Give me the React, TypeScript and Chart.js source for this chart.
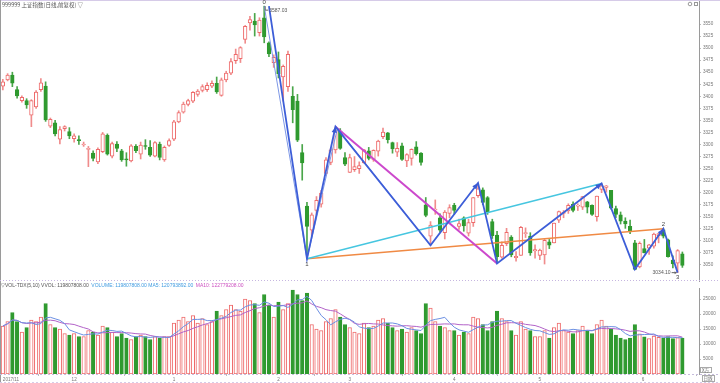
import React, { useEffect, useRef } from 'react';
import { Chart, registerables } from 'chart.js';
Chart.register(...registerables);

// ---- Daily OHLC (SSE composite, 2017/11/10 .. 2018/06/13) ----
const openP = [
  3421, 3434, 3444, 3414, 3391, 3391, 3361, 3378, 3414, 3421,
  3338, 3345, 3311, 3333, 3327, 3312, 3310, 3300, 3290, 3282,
  3264, 3285, 3319, 3276, 3301, 3287, 3270, 3266, 3296, 3280,
  3298, 3294, 3276, 3301, 3268, 3298, 3311, 3347, 3367, 3383,
  3390, 3404, 3412, 3414, 3421, 3427, 3402, 3434, 3448, 3474,
  3478, 3518, 3552, 3556, 3532, 3563, 3511, 3470, 3476, 3440,
  3420, 3400, 3390, 3283, 3172, 3122, 3163, 3176, 3240, 3263,
  3289, 3328, 3273, 3242, 3248, 3250, 3262, 3287, 3269, 3286,
  3316, 3324, 3304, 3284, 3297, 3266, 3271, 3295, 3282, 3175,
  3110, 3165, 3148, 3117, 3157, 3174, 3130, 3148, 3116, 3138,
  3194, 3206, 3190, 3140, 3112, 3066, 3094, 3108, 3065, 3070,
  3115, 3110, 3079, 3070, 3071, 3098, 3096, 3143, 3157, 3162,
  3176, 3172, 3170, 3181, 3174, 3150, 3207, 3211, 3205, 3167,
  3154, 3141, 3130, 3096, 3046, 3084, 3085, 3089, 3111, 3123,
  3102, 3060, 3054, 3073,
];
const highP = [
  3435, 3447, 3450, 3420, 3401, 3395, 3393, 3412, 3437, 3430,
  3355, 3350, 3337, 3339, 3335, 3322, 3318, 3305, 3296, 3287,
  3293, 3325, 3322, 3305, 3306, 3290, 3283, 3300, 3300, 3305,
  3310, 3308, 3306, 3305, 3297, 3312, 3350, 3370, 3388, 3394,
  3410, 3414, 3424, 3428, 3432, 3440, 3438, 3452, 3478, 3498,
  3503, 3547, 3566, 3572, 3563, 3587.03, 3513, 3486, 3492, 3465,
  3494, 3420, 3404, 3300, 3180, 3158, 3192, 3205, 3273, 3292,
  3337, 3333, 3283, 3280, 3275, 3264, 3290, 3294, 3289, 3309,
  3334, 3325, 3305, 3304, 3303, 3281, 3291, 3306, 3283, 3190,
  3140, 3185, 3156, 3163, 3175, 3178, 3145, 3150, 3145, 3190,
  3220, 3210, 3192, 3145, 3120, 3098, 3126, 3111, 3078, 3130,
  3127, 3117, 3092, 3083, 3103, 3103, 3137, 3162, 3163, 3177,
  3181, 3177, 3192, 3182, 3175, 3193, 3219, 3215, 3205, 3172,
  3160, 3148, 3143, 3101, 3098, 3103, 3093, 3116, 3115, 3125,
  3104, 3069, 3082, 3077,
];
const lowP = [
  3413, 3432, 3420, 3396, 3388, 3375, 3337, 3375, 3410, 3348,
  3335, 3318, 3301, 3328, 3312, 3305, 3300, 3296, 3254, 3266,
  3260, 3283, 3278, 3272, 3285, 3265, 3255, 3264, 3283, 3270,
  3290, 3275, 3274, 3268, 3265, 3296, 3308, 3345, 3365, 3380,
  3387, 3400, 3409, 3410, 3418, 3406, 3400, 3430, 3445, 3468,
  3470, 3510, 3537, 3525, 3525, 3511, 3482, 3460, 3438, 3390,
  3410, 3345, 3306, 3226, 3062.74, 3110, 3155, 3170, 3236, 3258,
  3282, 3290, 3256, 3242, 3244, 3240, 3261, 3268, 3265, 3276,
  3312, 3303, 3282, 3275, 3267, 3254, 3257, 3278, 3257, 3150,
  3091, 3155, 3118, 3104, 3148, 3155, 3124, 3120, 3110, 3130,
  3190, 3175, 3155, 3105, 3053, 3064, 3090, 3067, 3058, 3070,
  3107, 3070, 3064, 3061, 3052, 3084, 3096, 3138, 3148, 3157,
  3160, 3163, 3165, 3158, 3153, 3141, 3200, 3201, 3166, 3148,
  3135, 3126, 3115, 3041, 3044, 3075, 3072, 3085, 3096, 3106,
  3066, 3044, 3034.1, 3045,
];
const closeP = [
  3430, 3444, 3427, 3401, 3398, 3382, 3391, 3409, 3428, 3351,
  3352, 3322, 3331, 3337, 3318, 3318, 3308, 3301, 3292, 3271,
  3290, 3322, 3280, 3302, 3292, 3268, 3268, 3297, 3287, 3299,
  3296, 3278, 3304, 3273, 3294, 3308, 3347, 3366, 3384, 3391,
  3408, 3411, 3420, 3423, 3427, 3409, 3434, 3448, 3472, 3487,
  3501, 3545, 3559, 3548, 3558, 3523, 3488, 3481, 3447, 3462,
  3487, 3372, 3309, 3262, 3130, 3154, 3184, 3199, 3268, 3289,
  3329, 3292, 3259, 3273, 3254, 3256, 3289, 3271, 3288, 3307,
  3326, 3310, 3291, 3292, 3269, 3279, 3290, 3281, 3263, 3153,
  3133, 3166, 3122, 3160, 3169, 3163, 3136, 3131, 3138, 3190,
  3208, 3180, 3159, 3111, 3067, 3091, 3118, 3071, 3068, 3128,
  3117, 3075, 3082, 3081, 3101, 3091, 3137, 3161, 3159, 3174,
  3163, 3174, 3192, 3170, 3155, 3193, 3214, 3214, 3168, 3155,
  3141, 3135, 3120, 3041, 3095, 3075, 3092, 3114, 3115, 3110,
  3067, 3052, 3080, 3049,
];
// volume, unit 万
const volume = [
  16000, 17500, 20500, 17500, 14000, 15500, 18000, 17500, 19000, 23500, 16500, 15500, 15000, 13500, 13000,
  13500, 12500, 12500, 14500, 14000, 13000, 16000, 15500, 14000, 12500, 13500, 12000, 11500, 12500, 13000, 12500, 11500, 12500, 12000, 12500, 12500,
  17000, 18000, 19000, 17500, 19500, 17000, 18500, 16500, 17500, 21000, 19500, 21500, 23000, 21500, 21000, 25000, 24500, 23500, 20500, 26500, 23000, 19000,
  24000, 21500, 23500, 28000, 26500, 24500, 27000, 16500, 15000, 14500, 17500, 18500, 21500, 19000, 16500,
  15500, 14000, 13500, 17000, 15500, 16000, 18000, 18500, 17000, 15500, 14500, 15000, 14000, 15500, 14500, 13500, 23500, 22000, 17500, 16000, 15500, 14500,
  14500, 13000, 14000, 13500, 19000, 18500, 16500, 14500, 17500, 21000, 18500, 17500, 14500, 13000, 17500, 15000, 14500, 12500,
  12500, 14500, 12000, 15500, 17000, 14500, 14000, 13500, 14500, 16000, 14500, 13500, 16500, 18000, 16000, 15000, 13000, 12000, 11500, 12000, 16500, 13400,
  12400, 11800, 12600, 12198, 12000, 12500, 11800, 12100, 11981,
];

// axis ticks
const monthTickIdx = [0, 15, 36, 58, 73, 95, 113, 135];
const monthTickLabels = ['2017/11', '12', '1', '2', '3', '4', '5', '6'];
const priceTicks = [3050, 3075, 3100, 3125, 3150, 3175, 3200, 3225, 3250, 3275, 3300, 3325, 3350, 3375, 3400, 3425, 3450, 3475, 3500, 3525, 3550];
const volTicks = [5000, 10000, 15000, 20000, 25000];

// wave drawing pivots
const zigIdx = [56, 64, 70, 90, 100, 104, 126, 133, 139, 142];
const zigVal = [3587.03, 3062.74, 3337, 3091, 3220, 3053, 3219, 3041, 3125, 3034.1];
const thinIdx = [55, 64, 70.4, 90];
const thinVal = [3587.03, 3062.74, 3333, 3091];
const magentaIdx = [70, 104];
const magentaVal = [3337, 3053];
const cyanIdx = [64, 126];
const cyanVal = [3062.74, 3219];
const orangeIdx = [64, 139];
const orangeVal = [3062.74, 3125];
const waveLabels = ['0', '1', '2', '3'];
const waveLabelIdx = [55, 64, 139, 142];
const waveLabelVal = [3587.03, 3062.74, 3125, 3034.1];
const waveLabelPeak = [true, false, true, false];
const peakText = '3587.03';
const troughText = '3034.10';

const titleText = '999999 上证指数(日线,前复权) ▽';
const volTitle = ['▽VOL-TDX(5,10) VVOL: 119807808.00', 'VOLUME: 119807808.00 MA5: 120793892.00', 'MA10: 122779208.00'];
const volTitleColors = ['#555555', '#3f9be0', '#cc4fc0'];

const RED = '#ee6a6a';
const RED_W = '#f08c8c';
const GREEN = '#2f9a2f';
const GREEN_W = '#4aa64a';
const FONT = '"Liberation Sans", Arial, sans-serif';

function movingAvg(arr: number[], n: number) {
  return arr.map((_, i) => {
    const s = arr.slice(Math.max(0, i - n + 1), i + 1);
    return s.reduce((a, b) => a + b, 0) / s.length;
  });
}

function pts(ix: number[], vals: number[]) {
  return ix.map((x, k) => ({ x, y: vals[k] }));
}

function arrowHead(ctx: CanvasRenderingContext2D, x0: number, y0: number, x1: number, y1: number, color: string) {
  const a = Math.atan2(y1 - y0, x1 - x0);
  const L = 6, w = 2.6;
  ctx.fillStyle = color;
  ctx.beginPath();
  ctx.moveTo(x1, y1);
  ctx.lineTo(x1 - L * Math.cos(a) + w * Math.sin(a), y1 - L * Math.sin(a) - w * Math.cos(a));
  ctx.lineTo(x1 - L * Math.cos(a) - w * Math.sin(a), y1 - L * Math.sin(a) + w * Math.cos(a));
  ctx.closePath();
  ctx.fill();
}

const X_MIN = -0.6;
const X_MAX = 146.5;

export default function App() {
  const priceRef = useRef<HTMLCanvasElement>(null);
  const volRef = useRef<HTMLCanvasElement>(null);

  useEffect(() => {
    document.body.style.margin = '0';
    const idx = closeP.map((_, i) => i);
    const up = idx.map((i) => closeP[i] >= openP[i]);
    const bodyData = idx.map((i) => {
      const o = openP[i], c = closeP[i];
      if (Math.abs(o - c) < 2) return { x: i, y: [Math.min(o, c) - 1, Math.min(o, c) + 1] };
      return { x: i, y: [o, c] };
    });
    const wickData = idx.map((i) => ({ x: i, y: [lowP[i], highP[i]] }));
    const volData = idx.map((i) => ({ x: i, y: volume[i] }));
    const ma5 = movingAvg(volume, 5).map((v, i) => ({ x: i, y: v }));
    const ma10 = movingAvg(volume, 10).map((v, i) => ({ x: i, y: v }));

    const lineDs = (data: any[], color: string, width: number) => ({
      type: 'line' as const,
      data,
      borderColor: color,
      borderWidth: width,
      pointRadius: 0,
      fill: false,
      tension: 0,
      order: 0,
    });

    const plainTick = (v: any) => String(Math.round(Number(v)));

    const priceDecor = {
      id: 'priceDecor',
      afterDraw(chart: any) {
        const { ctx } = chart;
        const xs = chart.scales.x, ys = chart.scales.y;
        const W = chart.width, H = chart.height;
        ctx.save();
        ctx.lineWidth = 1;
        ctx.strokeStyle = '#d6cbe8';
        ctx.beginPath(); ctx.moveTo(0, 0.5); ctx.lineTo(W, 0.5); ctx.stroke();
        ctx.strokeStyle = '#9a9a9a';
        ctx.beginPath(); ctx.moveTo(0.5, 0); ctx.lineTo(0.5, H); ctx.stroke();
        ctx.setLineDash([1, 2]);
        ctx.strokeStyle = '#c6b6e0';
        ctx.beginPath(); ctx.moveTo(0, H - 1.5); ctx.lineTo(W, H - 1.5); ctx.stroke();
        ctx.setLineDash([]);
        // title
        ctx.textBaseline = 'middle';
        ctx.textAlign = 'left';
        ctx.fillStyle = '#555';
        ctx.font = '5.5px "Noto Sans CJK SC", ' + FONT;
        ctx.fillText(titleText, 2, 5);
        // top right icons
        ctx.strokeStyle = '#999';
        ctx.beginPath(); ctx.arc(690, 4, 1.8, 0, Math.PI * 2); ctx.stroke();
        ctx.strokeRect(694.5, 2.5, 3, 3);
        // arrowheads on up legs
        for (let k = 1; k < zigIdx.length; k++) {
          if (zigVal[k] > zigVal[k - 1]) {
            arrowHead(ctx, xs.getPixelForValue(zigIdx[k - 1]), ys.getPixelForValue(zigVal[k - 1]),
              xs.getPixelForValue(zigIdx[k]), ys.getPixelForValue(zigVal[k]), '#3a5ad2');
          }
        }
        // wave labels
        ctx.font = '6px ' + FONT;
        ctx.fillStyle = '#444';
        ctx.textAlign = 'center';
        waveLabels.forEach((t, k) => {
          const px = xs.getPixelForValue(waveLabelIdx[k]);
          const py = ys.getPixelForValue(waveLabelVal[k]);
          ctx.fillText(t, px, py + (waveLabelPeak[k] ? -4 : 5));
        });
        // price notes
        ctx.font = '5px ' + FONT;
        ctx.fillStyle = '#555';
        const p0x = xs.getPixelForValue(waveLabelIdx[0]);
        const p0y = ys.getPixelForValue(waveLabelVal[0]);
        ctx.strokeStyle = '#666';
        ctx.beginPath(); ctx.moveTo(p0x + 1, p0y); ctx.lineTo(p0x + 1, p0y + 4); ctx.lineTo(p0x + 4, p0y + 4); ctx.stroke();
        ctx.textAlign = 'left';
        ctx.fillText(peakText, p0x + 5, p0y + 4);
        const p3x = xs.getPixelForValue(waveLabelIdx[3]);
        const p3y = ys.getPixelForValue(waveLabelVal[3]);
        ctx.beginPath(); ctx.moveTo(p3x - 6, p3y); ctx.lineTo(p3x - 1, p3y); ctx.stroke();
        ctx.beginPath(); ctx.moveTo(p3x - 1, p3y); ctx.lineTo(p3x - 3, p3y - 1.5); ctx.lineTo(p3x - 3, p3y + 1.5); ctx.closePath(); ctx.fillStyle = '#666'; ctx.fill();
        ctx.fillStyle = '#555';
        ctx.textAlign = 'right';
        ctx.fillText(troughText, p3x - 7, p3y);
        ctx.restore();
      },
    };

    const volDecor = {
      id: 'volDecor',
      afterDraw(chart: any) {
        const { ctx } = chart;
        const W = chart.width, H = chart.height;
        const area = chart.chartArea;
        ctx.save();
        ctx.lineWidth = 1;
        ctx.strokeStyle = '#9a9a9a';
        ctx.beginPath(); ctx.moveTo(0.5, 0); ctx.lineTo(0.5, H); ctx.stroke();
        ctx.setLineDash([2, 2]);
        ctx.strokeStyle = '#c6bcdc';
        ctx.beginPath(); ctx.moveTo(0, Math.round(area.bottom) + 0.5); ctx.lineTo(W, Math.round(area.bottom) + 0.5); ctx.stroke();
        ctx.strokeStyle = '#d6cbe8';
        ctx.beginPath(); ctx.moveTo(0, H - 0.5); ctx.lineTo(W, H - 0.5); ctx.stroke();
        ctx.setLineDash([]);
        ctx.textBaseline = 'middle';
        ctx.textAlign = 'left';
        ctx.font = '5px ' + FONT;
        let x = 1;
        volTitle.forEach((t, k) => {
          ctx.fillStyle = volTitleColors[k];
          ctx.fillText(t, x, 3.5);
          x += ctx.measureText(t).width + 2.5;
        });
        // unit boxes
        ctx.font = '4.5px "Noto Sans CJK SC", ' + FONT;
        ctx.fillStyle = '#666';
        ctx.strokeStyle = '#aaa';
        ctx.strokeRect(700.5, area.bottom - 6.5, 11, 5);
        ctx.fillText('X万', 702, area.bottom - 4);
        ctx.strokeRect(702.5, H - 7.5, 12, 6);
        ctx.fillText('日线', 703.5, H - 4.5);
        ctx.restore();
      },
    };

    const pc = new Chart(priceRef.current as HTMLCanvasElement, {
      type: 'bar',
      data: {
        datasets: [
          lineDs(pts(zigIdx, zigVal), '#3d5ed8', 1.8),
          lineDs(pts(thinIdx, thinVal), '#7d97e6', 1),
          lineDs(pts(magentaIdx, magentaVal), '#cc48cc', 2),
          lineDs(pts(cyanIdx, cyanVal), '#46c6e0', 1.5),
          lineDs(pts(orangeIdx, orangeVal), '#f08a44', 1.5),
          {
            type: 'bar',
            data: bodyData as any,
            backgroundColor: up.map((u) => (u ? '#ffffff' : GREEN)),
            borderColor: up.map((u) => (u ? RED : GREEN)),
            borderWidth: 1,
            borderSkipped: false,
            barThickness: 3.6,
            grouped: false,
            order: 1,
          } as any,
          {
            type: 'bar',
            data: wickData as any,
            backgroundColor: up.map((u) => (u ? RED_W : GREEN_W)),
            borderWidth: 0,
            barThickness: 1,
            grouped: false,
            order: 2,
          } as any,
        ],
      },
      options: {
        animation: false,
        responsive: false,
        events: [],
        layout: { padding: 0 },
        plugins: { legend: { display: false }, tooltip: { enabled: false } },
        scales: {
          x: { type: 'linear', min: X_MIN, max: X_MAX, display: false, offset: false },
          y: {
            position: 'right',
            min: 3014.7,
            max: 3599.8,
            afterBuildTicks: (s: any) => { s.ticks = priceTicks.map((v) => ({ value: v })); },
            afterFit: (s: any) => { s.width = 21; s.paddingTop = 0; s.paddingBottom = 0; },
            ticks: { font: { size: 4.6, family: FONT }, color: '#777', padding: 2, autoSkip: false, callback: plainTick },
            grid: { drawOnChartArea: false, drawTicks: true, tickLength: 2, color: '#bbb' },
            border: { display: true, color: '#9a9a9a' },
          },
        },
      } as any,
      plugins: [priceDecor],
    });

    const vc = new Chart(volRef.current as HTMLCanvasElement, {
      type: 'bar',
      data: {
        datasets: [
          lineDs(ma5, '#6b8fe2', 1),
          lineDs(ma10, '#b262c8', 1),
          {
            type: 'bar',
            data: volData as any,
            backgroundColor: up.map((u) => (u ? '#ffffff' : GREEN)),
            borderColor: up.map((u) => (u ? RED : GREEN)),
            borderWidth: 1,
            borderSkipped: false,
            barThickness: 3.5,
            grouped: false,
            order: 1,
          } as any,
        ],
      },
      options: {
        animation: false,
        responsive: false,
        events: [],
        layout: { padding: { top: 6, left: 0, right: 0, bottom: 0 } },
        plugins: { legend: { display: false }, tooltip: { enabled: false } },
        scales: {
          x: {
            type: 'linear',
            min: X_MIN,
            max: X_MAX,
            offset: false,
            afterBuildTicks: (s: any) => { s.ticks = monthTickIdx.map((v) => ({ value: v })); },
            afterFit: (s: any) => { s.height = 9; s.paddingLeft = 0; s.paddingRight = 0; },
            ticks: {
              font: { size: 4.6, family: FONT },
              color: '#777',
              padding: 1,
              autoSkip: false,
              maxRotation: 0,
              align: 'inner',
              callback: (v: any) => {
                const k = monthTickIdx.indexOf(Number(v));
                return k >= 0 ? monthTickLabels[k] : '';
              },
            },
            grid: { drawOnChartArea: false, drawTicks: true, tickLength: 2, color: '#bbb' },
            border: { display: false },
          },
          y: {
            position: 'right',
            min: 0,
            max: 28667,
            afterBuildTicks: (s: any) => { s.ticks = volTicks.map((v) => ({ value: v })); },
            afterFit: (s: any) => { s.width = 21; s.paddingTop = 0; s.paddingBottom = 0; },
            ticks: { font: { size: 4.6, family: FONT }, color: '#777', padding: 2, autoSkip: false, callback: plainTick },
            grid: { drawOnChartArea: false, drawTicks: true, tickLength: 2, color: '#bbb' },
            border: { display: true, color: '#9a9a9a' },
          },
        },
      } as any,
      plugins: [volDecor],
    });

    return () => {
      pc.destroy();
      vc.destroy();
    };
  }, []);

  return (
    <div style={{ position: 'relative', width: 720, height: 383, background: '#ffffff', overflow: 'hidden' }}>
      <canvas ref={priceRef} width={720} height={282} style={{ position: 'absolute', left: 0, top: 0 }} />
      <canvas ref={volRef} width={720} height={101} style={{ position: 'absolute', left: 0, top: 282 }} />
    </div>
  );
}
